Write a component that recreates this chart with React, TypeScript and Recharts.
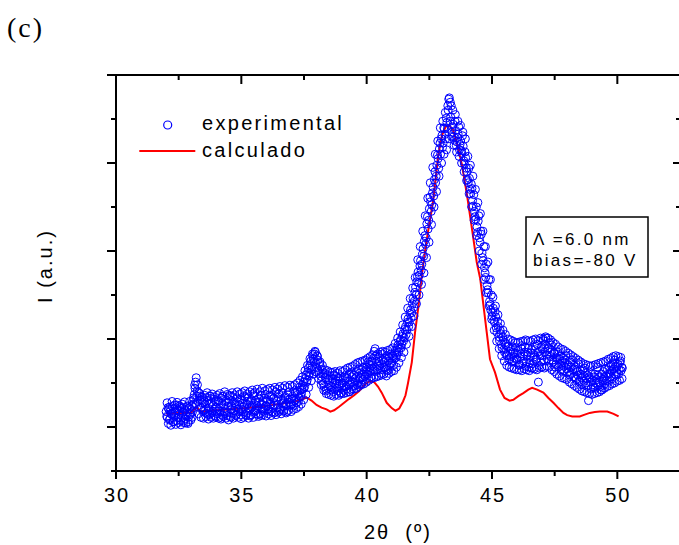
import React from 'react';
import { ComposedChart, Scatter, Line, XAxis, YAxis, Legend } from 'recharts';

// chart box and plot frame (px)
const CHART_W = 682;
const CHART_H = 545;
const PLOT_LEFT = 116;
const PLOT_TOP = 75;
const PLOT_RIGHT = 680;
const PLOT_BOTTOM = 471;

const BLUE = '#0000ff';
const RED = '#ff0000';
const FONT = '"Liberation Sans", Arial, sans-serif';

const X_DOMAIN = [30, 52.5];
const X_TICKS = [30, 32.5, 35, 37.5, 40, 42.5, 45, 47.5, 50, 52.5];
const Y_DOMAIN = [0, 9];
const Y_TICKS = [0, 1, 2, 3, 4, 5, 6, 7, 8, 9];

const SERIES_NAMES = ['experimental', 'calculado'];

// experimental scan, read in three interleaved passes (0.05 apart each)
const EXP_STEP = 0.05;
const EXP_A_START = 32;
const EXP_B_START = 32.025;
const EXP_C_START = 32.0375;

const EXP_A = [
  // 32
  1.35, 1.22, 1.41, 1.18, 1.30, 1.47, 1.25, 1.36, 1.14, 1.39, 1.28, 1.44, 1.20, 1.33, 1.10, 1.38, 1.26, 1.48, 1.23, 1.31,
  // 33
  1.40, 1.34, 1.62, 1.88, 2.12, 1.96, 1.78, 1.62, 1.44, 1.55, 1.38, 1.52, 1.31, 1.60, 1.42, 1.29, 1.56, 1.36, 1.63, 1.40,
  // 34
  1.45, 1.30, 1.58, 1.36, 1.66, 1.27, 1.50, 1.42, 1.61, 1.33, 1.55, 1.24, 1.48, 1.69, 1.38, 1.52, 1.29, 1.57, 1.41, 1.63,
  // 35
  1.35, 1.54, 1.46, 1.68, 1.32, 1.58, 1.44, 1.25, 1.62, 1.49, 1.71, 1.37, 1.56, 1.43, 1.66, 1.30, 1.52, 1.60, 1.40, 1.74,
  // 36
  1.48, 1.62, 1.36, 1.57, 1.70, 1.45, 1.66, 1.33, 1.59, 1.51, 1.76, 1.42, 1.63, 1.55, 1.38, 1.69, 1.48, 1.73, 1.56, 1.64,
  // 37
  1.52, 1.70, 1.60, 1.78, 1.55, 1.74, 1.66, 1.84, 1.76, 1.95, 1.88, 2.10, 2.02, 2.25, 2.16, 2.42, 2.30, 2.62, 2.48, 2.70,
  // 38
  2.35, 2.52, 2.22, 2.38, 2.05, 2.20, 1.92, 2.12, 1.86, 2.08, 1.95, 2.16, 1.84, 2.02, 2.18, 1.90, 2.05, 1.82, 1.98, 2.14,
  // 39
  1.88, 2.06, 1.95, 2.12, 1.86, 2.04, 2.20, 1.98, 2.14, 1.92, 2.18, 2.05, 2.26, 2.00, 2.22, 2.12, 2.30, 2.08, 2.26, 2.15,
  // 40
  2.36, 2.20, 2.42, 2.28, 2.50, 2.32, 2.72, 2.26, 2.48, 2.38, 2.60, 2.30, 2.44, 2.52, 2.34, 2.56, 2.40, 2.28, 2.58, 2.45,
  // 41
  2.46, 2.62, 2.55, 2.74, 2.64, 2.86, 2.78, 2.98, 2.88, 3.12, 3.02, 3.28, 3.20, 3.46, 3.38, 3.66, 3.60, 3.92, 3.86, 4.18,
  // 42
  4.30, 4.52, 4.45, 4.78, 4.70, 5.05, 5.22, 5.15, 5.62, 5.50, 5.96, 6.12, 6.05, 6.45, 6.62, 6.55, 6.95, 7.10, 7.32, 7.20,
  // 43
  7.62, 7.45, 7.78, 7.55, 7.92, 8.20, 8.48, 8.05, 7.70, 7.88, 7.52, 7.74, 7.48, 7.66, 7.30, 7.50, 7.22, 7.38, 6.98, 7.12,
  // 44
  6.80, 6.55, 6.65, 6.30, 6.42, 6.02, 5.90, 5.72, 5.55, 5.68, 5.30, 5.45, 4.95, 4.78, 4.62, 4.40, 4.22, 4.05, 3.85, 3.66,
  // 45
  3.52, 3.70, 3.38, 3.50, 3.15, 3.28, 2.96, 3.12, 2.80, 2.98, 2.70, 2.88, 2.62, 2.84, 2.55, 2.76, 2.48, 2.70, 2.58, 2.80,
  // 46
  2.52, 2.74, 2.42, 2.66, 2.85, 2.50, 2.70, 2.38, 2.62, 2.80, 2.46, 2.68, 2.34, 2.58, 2.76, 2.52, 2.88, 2.02, 2.72, 2.48,
  // 47
  2.62, 2.96, 2.70, 3.02, 2.55, 2.80, 2.92, 2.60, 2.74, 2.48, 2.66, 2.42, 2.58, 2.36, 2.54, 2.30, 2.50, 2.28, 2.46, 2.62,
  // 48
  2.24, 2.40, 2.18, 2.36, 2.52, 2.14, 2.32, 2.08, 2.26, 2.44, 2.02, 2.20, 1.96, 2.16, 2.34, 2.00, 2.18, 1.60, 2.10, 1.86,
  // 49
  2.06, 1.90, 2.20, 2.00, 2.36, 1.95, 2.14, 1.84, 2.08, 2.26, 1.98, 2.16, 2.30, 2.04, 2.22, 2.40, 2.10, 2.32, 2.52, 2.18,
  // 50
  2.38, 2.20, 2.46, 2.28, 2.34,
];

const EXP_B = [
  // 32
  1.24, 1.44, 1.16, 1.37, 1.29, 1.12, 1.42, 1.33, 1.50, 1.21, 1.36, 1.15, 1.45, 1.27, 1.40, 1.19, 1.34, 1.08, 1.43, 1.29,
  // 33
  1.48, 1.52, 1.74, 2.02, 1.70, 1.58, 1.70, 1.42, 1.62, 1.35, 1.58, 1.40, 1.67, 1.28, 1.53, 1.70, 1.32, 1.49, 1.26, 1.58,
  // 34
  1.36, 1.60, 1.44, 1.22, 1.53, 1.70, 1.35, 1.58, 1.26, 1.47, 1.72, 1.40, 1.60, 1.32, 1.56, 1.44, 1.66, 1.36, 1.50, 1.28,
  // 35
  1.62, 1.40, 1.70, 1.28, 1.52, 1.66, 1.38, 1.58, 1.46, 1.76, 1.34, 1.60, 1.48, 1.28, 1.56, 1.72, 1.42, 1.36, 1.65, 1.48,
  // 36
  1.58, 1.40, 1.72, 1.52, 1.34, 1.64, 1.50, 1.80, 1.44, 1.68, 1.38, 1.60, 1.78, 1.46, 1.66, 1.52, 1.35, 1.62, 1.80, 1.50,
  // 37
  1.64, 1.48, 1.82, 1.62, 1.80, 1.58, 1.90, 1.70, 1.85, 2.02, 1.92, 2.18, 2.06, 2.34, 2.22, 2.50, 2.36, 2.55, 2.66, 2.44,
  // 38
  2.62, 2.28, 2.44, 2.15, 2.30, 1.98, 2.22, 1.82, 2.18, 1.88, 2.06, 1.92, 2.10, 1.80, 2.00, 2.15, 1.88, 2.10, 1.94, 1.78,
  // 39
  2.00, 1.84, 2.16, 1.92, 2.10, 1.96, 1.80, 2.24, 2.02, 2.18, 1.94, 2.12, 1.96, 2.32, 2.10, 1.98, 2.20, 2.36, 2.16, 2.30,
  // 40
  2.26, 2.48, 2.34, 2.14, 2.40, 2.56, 2.36, 2.62, 2.30, 2.50, 2.40, 2.22, 2.66, 2.36, 2.48, 2.30, 2.62, 2.50, 2.36, 2.66,
  // 41
  2.56, 2.40, 2.68, 2.58, 2.80, 2.70, 2.94, 2.80, 3.06, 2.96, 3.22, 3.10, 3.38, 3.28, 3.58, 3.48, 3.80, 3.72, 4.06, 4.00,
  // 42
  4.42, 4.28, 4.66, 4.56, 4.92, 4.88, 5.35, 5.30, 5.78, 5.70, 6.22, 5.90, 6.32, 6.25, 6.80, 6.70, 7.18, 6.88, 7.45, 7.55,
  // 43
  7.35, 7.80, 7.65, 8.02, 7.78, 8.45, 7.95, 8.30, 7.82, 7.60, 7.95, 7.40, 7.58, 7.82, 7.42, 7.28, 7.62, 7.05, 7.25, 6.88,
  // 44
  6.62, 6.88, 6.40, 6.52, 6.15, 6.28, 5.78, 6.00, 5.42, 5.80, 5.20, 5.38, 4.85, 5.10, 4.50, 4.70, 4.12, 4.35, 3.78, 4.00,
  // 45
  3.60, 3.42, 3.62, 3.25, 3.40, 3.05, 3.20, 2.88, 3.05, 2.76, 2.92, 2.64, 2.82, 2.52, 2.72, 2.60, 2.82, 2.50, 2.68, 2.55,
  // 46
  2.66, 2.40, 2.60, 2.78, 2.44, 2.62, 2.82, 2.48, 2.70, 2.36, 2.58, 2.76, 2.44, 2.64, 2.84, 2.54, 2.70, 2.40, 2.62, 2.82,
  // 47
  2.76, 2.52, 2.88, 2.64, 2.78, 2.50, 2.70, 2.86, 2.52, 2.68, 2.36, 2.56, 2.70, 2.44, 2.62, 2.40, 2.58, 2.38, 2.52, 2.32,
  // 48
  2.42, 2.26, 2.48, 2.22, 2.30, 2.40, 2.12, 2.30, 2.18, 2.06, 2.28, 2.12, 2.30, 2.04, 2.22, 2.10, 1.95, 2.14, 2.02, 2.20,
  // 49
  1.96, 2.14, 1.88, 2.08, 2.18, 2.02, 1.92, 2.20, 2.04, 2.12, 2.32, 2.06, 2.20, 2.36, 2.14, 2.28, 2.44, 2.20, 2.38, 2.26,
  // 50
  2.42, 2.30, 2.50, 2.36,
];

// third pass: the scattered points at the edges of the band
const EXP_C = [
  // 32
  1.55, 1.08, 1.45, 1.04, 1.58, 1.12, 1.50, 1.06, 1.56, 1.10, 1.48, 1.05, 1.52, 1.14, 1.57, 1.09, 1.46, 1.12, 1.58, 1.16,
  // 33
  1.22, 1.66, 1.95, 1.52, 1.82, 1.30, 1.76, 1.22, 1.68, 1.20, 1.72, 1.24, 1.78, 1.18, 1.70, 1.22, 1.75, 1.20, 1.68, 1.24,
  // 34
  1.72, 1.20, 1.76, 1.18, 1.70, 1.24, 1.80, 1.20, 1.74, 1.16, 1.70, 1.22, 1.78, 1.20, 1.73, 1.26, 1.80, 1.22, 1.75, 1.19,
  // 35
  1.78, 1.22, 1.82, 1.26, 1.75, 1.20, 1.80, 1.28, 1.84, 1.22, 1.78, 1.30, 1.86, 1.24, 1.80, 1.26, 1.88, 1.28, 1.82, 1.25,
  // 36
  1.85, 1.30, 1.88, 1.26, 1.84, 1.32, 1.90, 1.28, 1.86, 1.34, 1.92, 1.30, 1.88, 1.36, 1.94, 1.32, 1.90, 1.38, 1.95, 1.35,
  // 37
  1.92, 1.40, 1.96, 1.42, 2.00, 1.46, 2.06, 1.52, 2.14, 1.62, 2.28, 1.74, 2.40, 1.90, 2.55, 2.05, 2.66, 2.20, 2.72, 2.25,
  // 38
  2.60, 2.10, 2.48, 1.96, 2.40, 1.84, 2.30, 1.76, 2.28, 1.74, 2.25, 1.72, 2.24, 1.70, 2.26, 1.74, 2.22, 1.72, 2.28, 1.76,
  // 39
  2.26, 1.76, 2.30, 1.78, 2.34, 1.80, 2.36, 1.84, 2.38, 1.86, 2.42, 1.88, 2.46, 1.92, 2.48, 1.96, 2.50, 1.98, 2.52, 2.02,
  // 40
  2.56, 2.06, 2.60, 2.10, 2.64, 2.12, 2.78, 2.14, 2.66, 2.16, 2.70, 2.18, 2.72, 2.20, 2.70, 2.16, 2.74, 2.22, 2.76, 2.26,
  // 41
  2.80, 2.28, 2.90, 2.36, 3.02, 2.46, 3.16, 2.58, 3.32, 2.70, 3.50, 2.88, 3.70, 3.06, 3.92, 3.28, 4.16, 3.52, 4.40, 3.80,
  // 42
  4.80, 4.00, 5.10, 4.24, 5.45, 4.50, 5.80, 4.85, 6.20, 5.20, 6.55, 5.60, 6.90, 6.00, 7.20, 6.35, 7.50, 6.70, 7.80, 7.00,
  // 43
  7.95, 7.20, 8.15, 7.30, 8.30, 7.55, 8.38, 7.60, 8.20, 7.40, 8.10, 7.25, 7.95, 7.15, 7.85, 7.00, 7.70, 6.80, 7.55, 6.60,
  // 44
  7.15, 6.30, 6.95, 6.00, 6.70, 5.70, 6.40, 5.35, 6.10, 5.00, 5.85, 4.70, 5.45, 4.35, 5.10, 4.05, 4.75, 3.75, 4.35, 3.45,
  // 45
  3.95, 3.20, 3.75, 2.95, 3.55, 2.78, 3.35, 2.62, 3.20, 2.50, 3.10, 2.40, 3.00, 2.36, 2.98, 2.34, 2.95, 2.32, 2.92, 2.30,
  // 46
  2.92, 2.30, 2.94, 2.28, 2.95, 2.32, 2.98, 2.30, 2.96, 2.28, 2.94, 2.34, 2.98, 2.32, 3.00, 2.30, 2.96, 2.34, 3.02, 2.36,
  // 47
  3.00, 2.34, 3.05, 2.38, 3.02, 2.36, 2.98, 2.30, 2.92, 2.26, 2.88, 2.20, 2.82, 2.16, 2.78, 2.12, 2.76, 2.10, 2.72, 2.08,
  // 48
  2.68, 2.02, 2.64, 1.98, 2.60, 1.94, 2.56, 1.90, 2.52, 1.86, 2.48, 1.82, 2.44, 1.80, 2.42, 1.78, 2.40, 1.76, 2.38, 1.74,
  // 49
  2.40, 1.76, 2.42, 1.78, 2.44, 1.80, 2.46, 1.84, 2.48, 1.88, 2.50, 1.92, 2.54, 1.94, 2.56, 1.98, 2.60, 2.00, 2.62, 2.04,
  // 50
  2.60, 2.06, 2.58, 2.10,
];

// calculated profile
const CALC_THETA = [
  32.0, 32.5, 33.0, 33.2, 33.4, 34.0, 35.0, 36.0, 37.0, 37.4, 37.6, 37.8, 38.0, 38.2, 38.4, 38.55,
  38.7, 38.9, 39.1, 39.3, 39.5, 39.7, 39.9, 40.1, 40.3, 40.45, 40.6, 40.8, 41.0, 41.15, 41.3, 41.45,
  41.55, 41.65, 41.8, 41.93, 42.07, 42.2, 42.33, 42.45, 42.65, 42.86, 43.0, 43.15, 43.3, 43.45, 43.6,
  43.8, 44.0, 44.2, 44.39, 44.53, 44.66, 44.79, 44.92, 45.12, 45.32, 45.5, 45.7, 45.85, 46.05, 46.25,
  46.45, 46.6, 46.8, 47.05, 47.25, 47.45, 47.65, 47.85, 48.0, 48.2, 48.5, 48.7, 48.9, 49.1, 49.3,
  49.6, 49.85, 50.05,
];
const CALC_I = [
  1.30, 1.32, 1.33, 1.45, 1.35, 1.38, 1.42, 1.48, 1.56, 1.62, 1.67, 1.60, 1.50, 1.44, 1.40, 1.35,
  1.38, 1.46, 1.55, 1.64, 1.72, 1.82, 1.95, 2.04, 2.02, 1.92, 1.78, 1.55, 1.43, 1.37, 1.42, 1.58,
  1.72, 2.00, 2.47, 3.15, 3.76, 4.44, 5.00, 5.45, 6.13, 7.19, 7.62, 7.82, 7.85, 7.75, 7.45,
  6.96, 6.28, 5.51, 4.75, 4.37, 3.76, 3.15, 2.54, 2.24, 1.85, 1.66, 1.60, 1.62, 1.70, 1.77,
  1.85, 1.89, 1.85, 1.78, 1.66, 1.55, 1.43, 1.32, 1.27, 1.24, 1.24, 1.28, 1.32, 1.34, 1.35,
  1.35, 1.30, 1.24,
];

const pass = (vals: number[], start: number) =>
  vals.map((y, i) => ({ x: +(start + i * EXP_STEP).toFixed(4), y }));

const expData = [
  ...pass(EXP_A, EXP_A_START),
  ...pass(EXP_B, EXP_B_START),
  ...pass(EXP_C, EXP_C_START),
].sort((a, b) => a.x - b.x);
const calcData = CALC_THETA.map((x, i) => ({ x, y: CALC_I[i] }));

const textStyle = { fontFamily: FONT, fill: '#000' };

const BottomTick = ({ x, payload }: any) => {
  const major = payload.value % 5 === 0;
  return (
    <g>
      <line x1={x} x2={x} y1={PLOT_BOTTOM} y2={PLOT_BOTTOM + (major ? 8 : 5)} stroke="#000" strokeWidth={2} />
      {major && (
        <text x={x + 1} y={PLOT_BOTTOM + 30.5} textAnchor="middle" fontSize={20} letterSpacing={2} style={textStyle}>
          {payload.value}
        </text>
      )}
    </g>
  );
};

const TopTick = ({ x, payload }: any) => {
  const major = payload.value % 5 === 0;
  return <line x1={x} x2={x} y1={PLOT_TOP} y2={PLOT_TOP + (major ? 9 : 5)} stroke="#000" strokeWidth={2} />;
};

const LeftTick = ({ y, payload }: any) => {
  const major = payload.value % 2 === 1;
  return <line x1={PLOT_LEFT - (major ? 9 : 5)} x2={PLOT_LEFT} y1={y} y2={y} stroke="#000" strokeWidth={2} />;
};

const RightTick = ({ y, payload }: any) => {
  const major = payload.value % 2 === 1;
  return <line x1={PLOT_RIGHT - (major ? 7 : 4)} x2={PLOT_RIGHT} y1={y} y2={y} stroke="#000" strokeWidth={2} />;
};

const LegendContent = () => (
  <svg width={240} height={56} style={{ display: 'block', overflow: 'visible' }}>
    <circle cx={32.7} cy={17} r={4} fill="none" stroke={BLUE} strokeWidth={1.2} />
    <text x={67} y={22} fontSize={20} letterSpacing={2.3} style={textStyle}>{SERIES_NAMES[0]}</text>
    <line x1={4.3} x2={60.3} y1={43} y2={43} stroke={RED} strokeWidth={2} />
    <text x={67} y={48.7} fontSize={20} letterSpacing={2.3} style={textStyle}>{SERIES_NAMES[1]}</text>
  </svg>
);

const axisLine = { stroke: '#000', strokeWidth: 2 };

export default function App() {
  return (
    <div style={{ position: 'absolute', left: 0, top: 0, width: 679, height: 545, overflow: 'hidden', background: '#fff' }}>
      <ComposedChart width={CHART_W} height={CHART_H} margin={{ top: 0, right: 0, bottom: 0, left: 0 }}>
        <XAxis xAxisId="b" type="number" dataKey="x" domain={X_DOMAIN} ticks={X_TICKS} interval={0}
          allowDataOverflow height={CHART_H - PLOT_BOTTOM} axisLine={axisLine} tickLine={false} tick={BottomTick} />
        <XAxis xAxisId="t" orientation="top" type="number" dataKey="x" domain={X_DOMAIN} ticks={X_TICKS} interval={0}
          allowDataOverflow height={PLOT_TOP} axisLine={axisLine} tickLine={false} tick={TopTick} />
        <YAxis yAxisId="l" type="number" dataKey="y" domain={Y_DOMAIN} ticks={Y_TICKS} interval={0}
          allowDataOverflow width={PLOT_LEFT} axisLine={axisLine} tickLine={false} tick={LeftTick} />
        <YAxis yAxisId="r" orientation="right" type="number" dataKey="y" domain={Y_DOMAIN} ticks={Y_TICKS} interval={0}
          allowDataOverflow width={CHART_W - PLOT_RIGHT} axisLine={axisLine} tickLine={false} tick={RightTick} />
        <Line xAxisId="b" yAxisId="l" data={calcData} dataKey="y" name={SERIES_NAMES[1]} type="linear"
          stroke={RED} strokeWidth={2} dot={false} isAnimationActive={false} />
        <Scatter xAxisId="b" yAxisId="l" data={expData} dataKey="y" name={SERIES_NAMES[0]} isAnimationActive={false}
          shape={(p: any) => <circle cx={p.cx} cy={p.cy} r={4} fill="none" stroke={BLUE} strokeWidth={1} />} />
        <Legend layout="vertical" align="center" verticalAlign="middle" content={LegendContent}
          wrapperStyle={{ left: 135, top: 108, width: 240, height: 56, margin: 0 }} />
      </ComposedChart>
      <svg width={679} height={545} style={{ position: 'absolute', left: 0, top: 0, pointerEvents: 'none' }}>
        <text x={7} y={37} fontSize={28} letterSpacing={2} style={{ fontFamily: '"Liberation Serif", "Times New Roman", serif', fill: '#000' }}>(c)</text>
        <text x={52} y={266} transform="rotate(-90 52 266)" textAnchor="middle" fontSize={20} letterSpacing={2} style={textStyle}>I (a.u.)</text>
        <text x={398} y={539} textAnchor="middle" fontSize={20} letterSpacing={2} style={{ ...textStyle, whiteSpace: 'pre' }}>{'2θ  (º)'}</text>
        <rect x={526} y={217} width={122} height={60} fill="#fff" stroke="#000" strokeWidth={1.5} />
        <text x={533} y={245} fontSize={17} letterSpacing={2.3} style={textStyle}>Λ =6.0 nm</text>
        <text x={533} y={265.5} fontSize={17} letterSpacing={2.3} style={textStyle}>bias=-80 V</text>
      </svg>
    </div>
  );
}
